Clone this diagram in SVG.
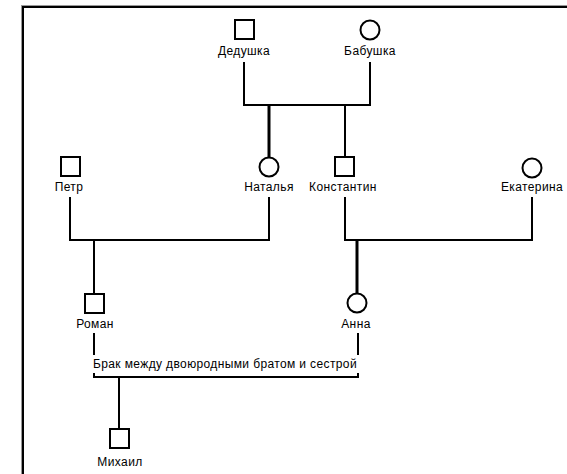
<svg xmlns="http://www.w3.org/2000/svg" width="567" height="474" viewBox="0 0 567 474">
<style>
.sq,.ci{fill:#fff;stroke:#000;stroke-width:2}
.l{stroke:#000;stroke-width:2;fill:none}
.t{stroke:#000;stroke-width:3;fill:none}
text{font-family:"Liberation Sans",Arial,sans-serif;font-size:12px;letter-spacing:0.4px;fill:#000;text-anchor:middle}
</style>
<rect x="0" y="0" width="567" height="474" fill="#fff"/>
<rect x="21.5" y="5.5" width="600" height="500" fill="none" stroke="#999" stroke-width="1"/>
<rect x="23" y="7" width="600" height="500" fill="none" stroke="#000" stroke-width="2"/>
<g id="connectors">
<path class="l" d="M244 62V105H370V62"/>
<path class="t" d="M269 105V157"/>
<path class="l" d="M345 105V157"/>
<path class="l" d="M70 197V240H269V197"/>
<path class="l" d="M94 240V294"/>
<path class="l" d="M345 197V240H532V197"/>
<path class="t" d="M357 240V293"/>
<path class="l" d="M94 333V355"/>
<path class="l" d="M358 333V355"/>
<path class="l" d="M94 373V377H358V373"/>
<path class="l" d="M119 377V429"/>
<text x="225" y="368" textLength="264" lengthAdjust="spacing">Брак между двоюродными братом и сестрой</text>
</g>
<g id="dedushka"><rect class="sq" x="235" y="20" width="19" height="19"/><text x="244" y="55">Дедушка</text></g>
<g id="babushka"><circle class="ci" cx="370" cy="30" r="9.5"/><text x="370" y="55">Бабушка</text></g>
<g id="petr"><rect class="sq" x="61" y="157" width="19" height="19"/><text x="69" y="191">Петр</text></g>
<g id="natalya"><circle class="ci" cx="269" cy="167" r="9.5"/><text x="269" y="191">Наталья</text></g>
<g id="konstantin"><rect class="sq" x="335" y="157" width="19" height="19"/><text x="343" y="191">Константин</text></g>
<g id="ekaterina"><circle class="ci" cx="532" cy="168" r="9.5"/><text x="532" y="191">Екатерина</text></g>
<g id="roman"><rect class="sq" x="85" y="294" width="19" height="19"/><text x="95" y="328">Роман</text></g>
<g id="anna"><circle class="ci" cx="357" cy="303" r="9.5"/><text x="356" y="328">Анна</text></g>
<g id="mikhail"><rect class="sq" x="110" y="429" width="19" height="19"/><text x="120" y="466">Михаил</text></g>
</svg>
